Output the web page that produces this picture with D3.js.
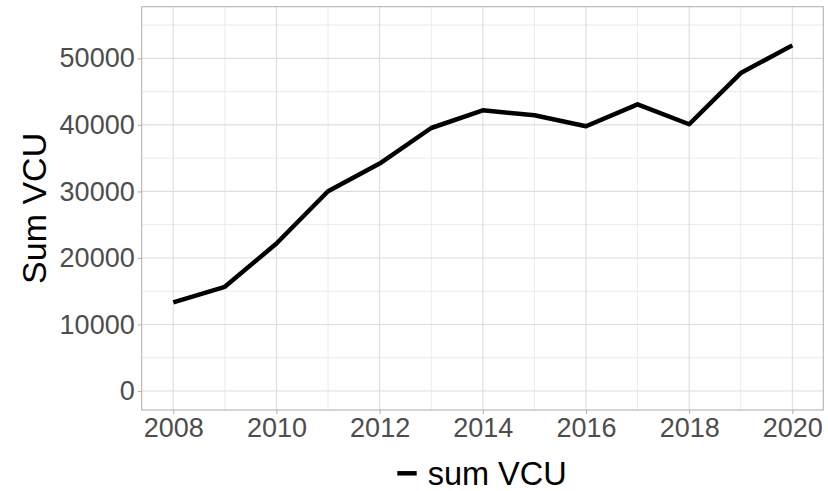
<!DOCTYPE html>
<html>
<head>
<meta charset="utf-8">
<script src="https://cdn.jsdelivr.net/npm/d3@7"></script>
<style>
  html, body { margin: 0; padding: 0; background: #fff; }
  svg { display: block; font-family: Arial, "Liberation Sans", sans-serif; }
</style>
</head>
<body>
<svg id="chart" width="828" height="491"></svg>
<script>
// Yearly totals of VCU
const years = [2008, 2009, 2010, 2011, 2012, 2013, 2014, 2015, 2016, 2017, 2018, 2019, 2020];
const sumVCU = [13320, 15660, 22170, 30030, 34180, 39530, 42190, 41440, 39790, 43090, 40090, 47790, 51950];
const xTicks = [2008, 2010, 2012, 2014, 2016, 2018, 2020];
const yTicks = [0, 10000, 20000, 30000, 40000, 50000];
const seriesName = "sum VCU";
const yTitle = "Sum VCU";

const svg = d3.select("#chart");
const panel = { left: 141.7, right: 823.3, top: 6.7, bottom: 410 };

// padded domains (about 5% expansion on each side)
const x = d3.scaleLinear()
  .domain([d3.min(years) - 0.612, d3.max(years) + 0.6])
  .range([panel.left, panel.right]);
const y = d3.scaleLinear()
  .domain([-2853, 57760])
  .range([panel.bottom, panel.top]);

const g = svg.append("g");

// minor grid lines
const xMinor = d3.range(2009, 2020, 2);
const yMinor = [5000, 15000, 25000, 35000, 45000, 55000];
g.selectAll("line.xminor").data(xMinor).join("line")
  .attr("x1", d => x(d)).attr("x2", d => x(d))
  .attr("y1", panel.top).attr("y2", panel.bottom)
  .attr("stroke", "#ebebeb").attr("stroke-width", 1);
g.selectAll("line.yminor").data(yMinor).join("line")
  .attr("y1", d => y(d)).attr("y2", d => y(d))
  .attr("x1", panel.left).attr("x2", panel.right)
  .attr("stroke", "#ebebeb").attr("stroke-width", 1);

// major grid lines
g.selectAll("line.xmajor").data(xTicks).join("line")
  .attr("x1", d => x(d)).attr("x2", d => x(d))
  .attr("y1", panel.top).attr("y2", panel.bottom)
  .attr("stroke", "#dedede").attr("stroke-width", 1.1);
g.selectAll("line.ymajor").data(yTicks).join("line")
  .attr("y1", d => y(d)).attr("y2", d => y(d))
  .attr("x1", panel.left).attr("x2", panel.right)
  .attr("stroke", "#dedede").attr("stroke-width", 1.1);

// panel border
g.append("rect")
  .attr("x", panel.left).attr("y", panel.top)
  .attr("width", panel.right - panel.left).attr("height", panel.bottom - panel.top)
  .attr("fill", "none").attr("stroke", "#b3b3b3").attr("stroke-width", 1.1);

// axes
const xAxis = d3.axisBottom(x).tickValues(xTicks).tickFormat(d3.format("d"))
  .tickSize(4).tickPadding(4);
const yAxis = d3.axisLeft(y).tickValues(yTicks).tickFormat(d3.format("d"))
  .tickSize(4).tickPadding(3);

const gx = svg.append("g").attr("transform", `translate(0,${panel.bottom})`).call(xAxis);
const gy = svg.append("g").attr("transform", `translate(${panel.left},0)`).call(yAxis);
[gx, gy].forEach(a => {
  a.select(".domain").remove();
  a.selectAll(".tick line").attr("stroke", "#b3b3b3").attr("stroke-width", 1.1);
  a.selectAll(".tick text").attr("fill", "#4d4d4d").attr("font-size", 27)
    .attr("font-family", "Arial, 'Liberation Sans', sans-serif");
});

// series line
const line = d3.line().x((d, i) => x(years[i])).y(d => y(d));
svg.append("path")
  .datum(sumVCU)
  .attr("d", line)
  .attr("fill", "none")
  .attr("stroke", "#000")
  .attr("stroke-width", 4.5)
  .attr("stroke-linejoin", "round");

// y title
svg.append("text")
  .attr("transform", `translate(46,${(panel.top + panel.bottom) / 2}) rotate(-90)`)
  .attr("text-anchor", "middle")
  .attr("font-size", 34)
  .attr("fill", "#000")
  .text(yTitle);

// legend
const lg = svg.append("g");
lg.append("line")
  .attr("x1", 397.3).attr("x2", 416.7)
  .attr("y1", 473.3).attr("y2", 473.3)
  .attr("stroke", "#000").attr("stroke-width", 4.5);
lg.append("text")
  .attr("x", 427.7).attr("y", 484.5)
  .attr("font-size", 32.5)
  .attr("fill", "#000")
  .text(seriesName);
</script>
</body>
</html>
